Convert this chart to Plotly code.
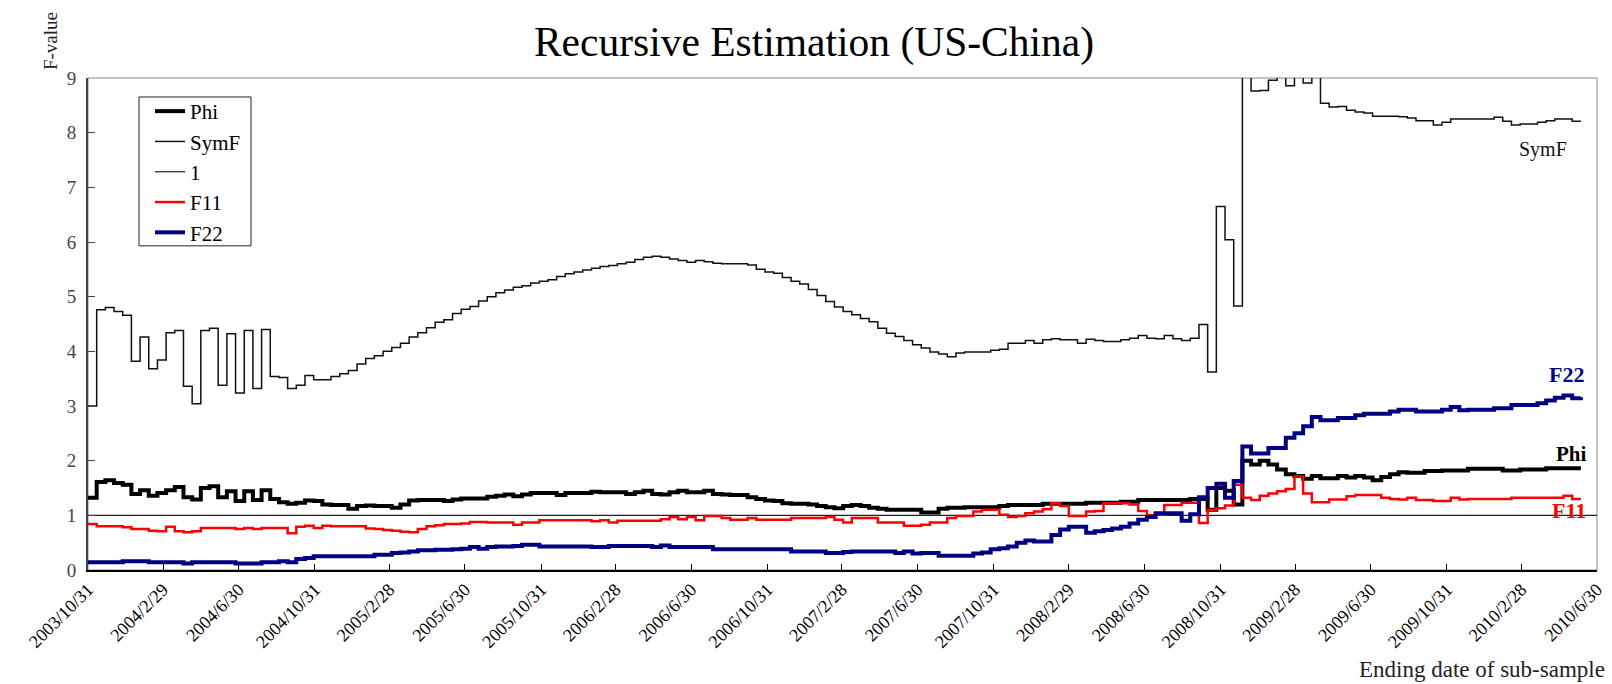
import pandas as pd
import plotly.graph_objects as go

# ---------------- data (bi-weekly recursive estimates) ----------------
START_DATE = "2003-10-31"
N_POINTS = 173
STEP = "14D"

SYMF = [
    3.00, 4.76, 4.80, 4.73, 4.66, 3.82, 4.26, 3.68, 3.84, 4.34,
    4.38, 3.36, 3.04, 4.38, 4.42, 3.38, 4.32, 3.24, 4.38, 3.32,
    4.40, 3.54, 3.52, 3.32, 3.38, 3.56, 3.48, 3.48, 3.54, 3.59,
    3.65, 3.77, 3.87, 3.92, 4.00, 4.07, 4.15, 4.26, 4.34, 4.43,
    4.53, 4.58, 4.69, 4.77, 4.82, 4.92, 5.00, 5.07, 5.12, 5.17,
    5.20, 5.25, 5.28, 5.31, 5.37, 5.42, 5.45, 5.49, 5.52, 5.55,
    5.57, 5.60, 5.63, 5.68, 5.72, 5.74, 5.72, 5.69, 5.66, 5.63,
    5.66, 5.64, 5.61, 5.60, 5.60, 5.60, 5.58, 5.50, 5.45, 5.43,
    5.35, 5.28, 5.23, 5.13, 5.02, 4.91, 4.81, 4.73, 4.67, 4.60,
    4.54, 4.42, 4.33, 4.27, 4.20, 4.12, 4.06, 3.99, 3.95, 3.90,
    3.97, 3.99, 3.99, 3.99, 4.02, 4.04, 4.15, 4.15, 4.20, 4.15,
    4.21, 4.23, 4.21, 4.21, 4.15, 4.22, 4.20, 4.18, 4.18, 4.21,
    4.24, 4.29, 4.24, 4.23, 4.29, 4.23, 4.20, 4.24, 4.49, 3.62,
    6.65, 6.04, 4.83, 9.60, 8.76, 8.77, 8.96, 9.30, 8.86, 9.30,
    8.91, 9.30, 8.54, 8.47, 8.48, 8.41, 8.38, 8.36, 8.30, 8.30,
    8.30, 8.29, 8.27, 8.22, 8.22, 8.14, 8.19, 8.25, 8.25, 8.25,
    8.25, 8.25, 8.28, 8.21, 8.14, 8.16, 8.16, 8.19, 8.22, 8.25,
    8.25, 8.21, 8.21,
]

PHI = [
    1.32, 1.61, 1.64, 1.59, 1.56, 1.39, 1.46, 1.36, 1.41, 1.46,
    1.52, 1.33, 1.29, 1.50, 1.53, 1.33, 1.44, 1.26, 1.44, 1.28,
    1.46, 1.30, 1.24, 1.21, 1.23, 1.27, 1.26, 1.20, 1.19, 1.19,
    1.12, 1.17, 1.18, 1.17, 1.17, 1.14, 1.20, 1.27, 1.28, 1.28,
    1.28, 1.26, 1.29, 1.31, 1.31, 1.31, 1.34, 1.36, 1.38, 1.35,
    1.38, 1.41, 1.41, 1.41, 1.37, 1.41, 1.41, 1.41, 1.43, 1.42,
    1.42, 1.42, 1.39, 1.42, 1.45, 1.39, 1.38, 1.42, 1.45, 1.42,
    1.42, 1.45, 1.39, 1.38, 1.37, 1.37, 1.33, 1.30, 1.27, 1.26,
    1.22, 1.21, 1.21, 1.20, 1.17, 1.15, 1.13, 1.17, 1.19, 1.17,
    1.14, 1.12, 1.10, 1.10, 1.10, 1.10, 1.05, 1.05, 1.12, 1.14,
    1.14, 1.15, 1.15, 1.15, 1.15, 1.17, 1.19, 1.19, 1.19, 1.19,
    1.21, 1.21, 1.21, 1.21, 1.21, 1.23, 1.23, 1.23, 1.23, 1.25,
    1.25, 1.28, 1.28, 1.28, 1.28, 1.28, 1.28, 1.30, 1.30, 1.10,
    1.50, 1.45, 1.20, 2.00, 1.93, 2.00, 1.93, 1.84, 1.75, 1.72,
    1.67, 1.72, 1.68, 1.68, 1.72, 1.69, 1.72, 1.69, 1.64, 1.70,
    1.75, 1.79, 1.78, 1.78, 1.81, 1.81, 1.82, 1.82, 1.82, 1.85,
    1.85, 1.85, 1.85, 1.82, 1.82, 1.84, 1.84, 1.84, 1.86, 1.86,
    1.86, 1.86, 1.86,
]

F11 = [
    0.84, 0.80, 0.80, 0.80, 0.78, 0.75, 0.75, 0.72, 0.71, 0.79,
    0.71, 0.69, 0.71, 0.77, 0.77, 0.77, 0.77, 0.75, 0.77, 0.75,
    0.77, 0.77, 0.77, 0.67, 0.79, 0.81, 0.77, 0.81, 0.80, 0.80,
    0.80, 0.80, 0.76, 0.75, 0.73, 0.72, 0.70, 0.69, 0.75, 0.80,
    0.82, 0.84, 0.84, 0.85, 0.88, 0.88, 0.87, 0.87, 0.87, 0.83,
    0.87, 0.87, 0.91, 0.91, 0.91, 0.91, 0.91, 0.91, 0.89, 0.91,
    0.87, 0.90, 0.90, 0.90, 0.90, 0.90, 0.93, 0.97, 0.93, 0.97,
    0.91, 0.99, 0.99, 0.95, 0.92, 0.92, 0.95, 0.92, 0.92, 0.92,
    0.92, 0.95, 0.95, 0.95, 0.95, 0.97, 0.92, 0.87, 0.95, 0.95,
    0.95, 0.87, 0.87, 0.87, 0.81, 0.81, 0.83, 0.87, 0.87, 0.95,
    0.99, 0.99, 1.07, 1.10, 1.10, 1.01, 0.97, 0.99, 1.04, 1.07,
    1.11, 1.22, 1.17, 0.99, 0.99, 1.07, 1.08, 1.22, 1.22, 1.22,
    1.20, 1.08, 1.00, 1.01, 1.19, 1.19, 1.23, 1.23, 0.86, 1.10,
    1.13, 1.18, 1.56, 1.32, 1.28, 1.36, 1.40, 1.44, 1.48, 1.71,
    1.40, 1.24, 1.24, 1.29, 1.29, 1.35, 1.37, 1.37, 1.37, 1.32,
    1.30, 1.29, 1.32, 1.28, 1.28, 1.26, 1.26, 1.32, 1.29, 1.30,
    1.30, 1.30, 1.30, 1.30, 1.32, 1.32, 1.32, 1.32, 1.32, 1.32,
    1.36, 1.30, 1.30,
]

F22 = [
    0.14, 0.14, 0.14, 0.14, 0.16, 0.16, 0.16, 0.14, 0.14, 0.14,
    0.14, 0.12, 0.14, 0.14, 0.14, 0.14, 0.14, 0.12, 0.12, 0.12,
    0.14, 0.14, 0.16, 0.14, 0.20, 0.22, 0.25, 0.25, 0.25, 0.25,
    0.25, 0.25, 0.25, 0.28, 0.28, 0.31, 0.32, 0.34, 0.36, 0.36,
    0.37, 0.37, 0.38, 0.39, 0.42, 0.39, 0.42, 0.43, 0.43, 0.44,
    0.46, 0.46, 0.43, 0.43, 0.43, 0.43, 0.43, 0.43, 0.42, 0.42,
    0.44, 0.44, 0.44, 0.44, 0.44, 0.42, 0.45, 0.42, 0.42, 0.42,
    0.42, 0.42, 0.38, 0.38, 0.38, 0.38, 0.38, 0.38, 0.38, 0.38,
    0.38, 0.34, 0.34, 0.34, 0.34, 0.31, 0.31, 0.33, 0.34, 0.34,
    0.34, 0.34, 0.34, 0.31, 0.34, 0.30, 0.31, 0.31, 0.26, 0.26,
    0.26, 0.26, 0.30, 0.32, 0.38, 0.40, 0.43, 0.50, 0.54, 0.52,
    0.52, 0.64, 0.74, 0.79, 0.79, 0.68, 0.71, 0.73, 0.76, 0.79,
    0.85, 0.92, 0.97, 1.04, 1.04, 1.04, 0.90, 1.02, 1.33, 1.50,
    1.58, 1.32, 1.63, 2.26, 2.13, 2.13, 2.23, 2.23, 2.42, 2.50,
    2.63, 2.80, 2.74, 2.74, 2.78, 2.78, 2.83, 2.86, 2.86, 2.86,
    2.90, 2.93, 2.93, 2.90, 2.90, 2.90, 2.93, 2.98, 2.92, 2.93,
    2.93, 2.93, 2.96, 2.96, 3.02, 3.02, 3.02, 3.05, 3.10, 3.15,
    3.19, 3.14, 3.16,
]

REFERENCE_LEVEL = 1.0

X_TICK_LABELS = [
    "2003/10/31", "2004/2/29", "2004/6/30", "2004/10/31", "2005/2/28",
    "2005/6/30", "2005/10/31", "2006/2/28", "2006/6/30", "2006/10/31",
    "2007/2/28", "2007/6/30", "2007/10/31", "2008/2/29", "2008/6/30",
    "2008/10/31", "2009/2/28", "2009/6/30", "2009/10/31", "2010/2/28",
    "2010/6/30",
]
Y_TICKS = list(range(0, 10))

for s in (SYMF, PHI, F11, F22):
    assert len(s) == N_POINTS

DATES = pd.date_range(START_DATE, periods=N_POINTS, freq=STEP)
TICK_DATES = pd.to_datetime(X_TICK_LABELS, format="%Y/%m/%d")
X_START, X_END = TICK_DATES[0], TICK_DATES[-1]

SERIF = "Liberation Serif, Times New Roman, serif"

fig = go.Figure()
fig.add_trace(go.Scatter(x=DATES, y=PHI, name="Phi", mode="lines",
                         line=dict(color="#000000", width=4, shape="hv")))
fig.add_trace(go.Scatter(x=DATES, y=SYMF, name="SymF", mode="lines",
                         line=dict(color="#111111", width=1.5, shape="hv")))
fig.add_trace(go.Scatter(x=[X_START, X_END], y=[REFERENCE_LEVEL, REFERENCE_LEVEL],
                         name="1", mode="lines",
                         line=dict(color="#222222", width=1.2)))
fig.add_trace(go.Scatter(x=DATES, y=F11, name="F11", mode="lines",
                         line=dict(color="#FF0000", width=2.5, shape="hv")))
fig.add_trace(go.Scatter(x=DATES, y=F22, name="F22", mode="lines",
                         line=dict(color="#000080", width=4, shape="hv")))

L, R, T, B = 88, 15, 78, 113.5
W, H = 1612, 684
PW = W - L - R
PH = H - T - B


def px_x(xp):
    return (xp - L) / PW


def px_y(yp):
    return (H - B - yp) / PH


def label(text, xp, yp, size, color, xanchor="center", angle=0):
    return dict(text=text, xref="paper", yref="paper", x=px_x(xp), y=px_y(yp),
                xanchor=xanchor, yanchor="middle", textangle=angle, showarrow=False,
                font=dict(family=SERIF, size=size, color=color))


annotations = [
    label("F-value", 50, 41, 19, "#222", angle=-90),
    label("Ending date of sub-sample", 1607, 670, 23, "#222", xanchor="right"),
    label("SymF", 1543, 150, 20, "#111"),
    label("<b>F22</b>", 1566, 375, 22, "#000080"),
    label("<b>Phi</b>", 1571, 454, 21, "#000000"),
    label("<b>F11</b>", 1569, 511, 22, "#FF0000"),
]

fig.update_layout(
    width=W, height=H,
    margin=dict(l=L, r=R, t=T, b=B),
    paper_bgcolor="white", plot_bgcolor="white",
    font=dict(family=SERIF, color="#000"),
    title=dict(text="Recursive Estimation (US-China)", x=814 / W, y=1 - 41 / H,
               xanchor="center", yanchor="middle", xref="container", yref="container",
               font=dict(family=SERIF, size=41.5, color="#000")),
    legend=dict(x=px_x(150), y=px_y(91), xanchor="left", yanchor="top",
                borderwidth=0, bgcolor="rgba(0,0,0,0)",
                font=dict(family=SERIF, size=21, color="#000"),
                tracegroupgap=0, itemwidth=30),
    annotations=annotations,
    shapes=[
        dict(type="rect", xref="paper", yref="paper", x0=0, y0=0, x1=1, y1=1,
             line=dict(color="#888888", width=1), layer="below"),
        dict(type="rect", xref="paper", yref="paper",
             x0=px_x(139), x1=px_x(251), y0=px_y(246), y1=px_y(97),
             line=dict(color="#222222", width=1), fillcolor="white", layer="above"),
    ],
    showlegend=True,
)

fig.update_xaxes(
    type="date", range=[X_START, X_END], automargin=False,
    tickmode="array", tickvals=TICK_DATES, ticktext=X_TICK_LABELS,
    tickangle=-45, ticks="inside", ticklen=6, tickcolor="#000",
    showline=True, linecolor="#000", linewidth=2, showgrid=False, zeroline=False,
    tickfont=dict(family=SERIF, size=18, color="#000"),
)
fig.update_yaxes(
    range=[0, 9], tickmode="array", tickvals=Y_TICKS, automargin=False,
    ticks="inside", ticklen=7, tickcolor="#444", ticklabelstandoff=6,
    showline=True, linecolor="#444", linewidth=2, showgrid=False, zeroline=False,
    tickfont=dict(family=SERIF, size=19, color="#444"),
)

fig.write_html("out.html")
